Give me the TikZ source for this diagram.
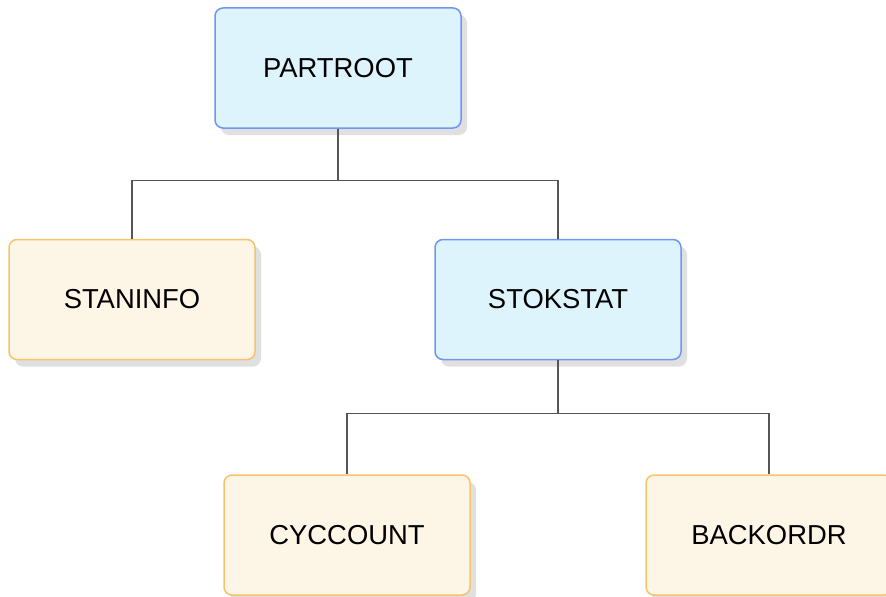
\documentclass[tikz,border=0pt]{standalone}
\usepackage{fontspec}
\setmainfont{Liberation Sans}
\usepackage{tikz}
\usetikzlibrary{positioning, shadows, calc}

\definecolor{segblue}{HTML}{DDF4FC}
\definecolor{segblueline}{HTML}{7096F2}
\definecolor{segcream}{HTML}{FDF5E5}
\definecolor{segcreamline}{HTML}{F5C46C}
\definecolor{linkgray}{HTML}{555555}

\begin{document}
\begin{tikzpicture}[
			segment/.style={rectangle, rounded corners=4pt, line width=0.75pt, minimum width=123pt, minimum height=60pt, inner sep=0pt, font=\fontsize{13.7pt}{16pt}\selectfont,
				drop shadow={shadow xshift=3pt, shadow yshift=-3.5pt, fill=black!12, opacity=1}},
			parent/.style={segment, draw=segblueline, fill=segblue},
			leaf/.style={segment, draw=segcreamline, fill=segcream},
			link/.style={draw=linkgray, line width=0.6pt}
			]
			\useasboundingbox (0,0) rectangle (443pt,298pt);
			\node[parent] (root) at (169pt,264pt) {PARTROOT};
			\node[leaf] (stan) [below=55pt of root, xshift=-103pt] {STANINFO};
			\node[parent] (stok) [below=55pt of root, xshift=110pt] {STOKSTAT};
			\node[leaf] (cyc) [below=57pt of stok, xshift=-105.5pt] {CYCCOUNT};
			\node[leaf] (back) [below=57pt of stok, xshift=105.5pt] {BACKORDR};
			
			\coordinate (bus1) at ($(root.south)!0.47!(root.south |- stan.north)$);
			\coordinate (bus2) at ($(stok.south)!0.47!(stok.south |- cyc.north)$);
			
			\draw[link] (root.south) -- (bus1) -| (stan.north);
			\draw[link] (bus1) -| (stok.north);
			\draw[link] (stok.south) -- (bus2) -| (cyc.north);
			\draw[link] (bus2) -| (back.north);
		\end{tikzpicture}
\end{document}
